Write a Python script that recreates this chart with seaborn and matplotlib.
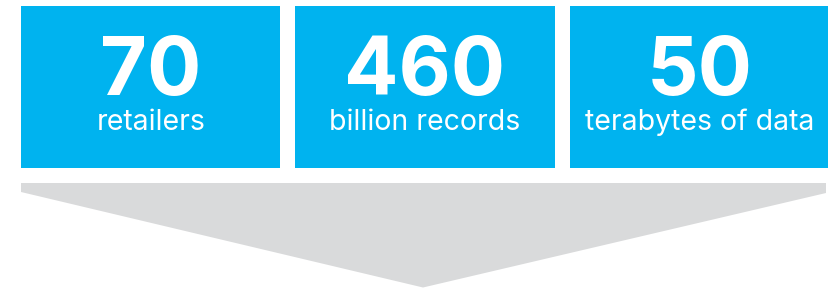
import matplotlib
matplotlib.use("Agg")
import matplotlib.pyplot as plt
from matplotlib.patches import Polygon
import seaborn as sns
import pandas as pd

# Data
values = ["70", "460", "50"]
labels = ["retailers", "billion records", "terabytes of data"]

BLUE = "#00B3EF"
GRAY = "#D9DADB"

sns.set_theme(style="white")
plt.rcParams["font.family"] = ["Inter", "DejaVu Sans"]

W, H = 829, 290
fig = plt.figure(figsize=(W / 100, H / 100), dpi=100)
ax = fig.add_axes([0, 0, 1, 1])

# Box layout (pixels)
box_w = 259.5
step = 274.3
centers = [21 + box_w / 2 + i * step for i in range(len(values))]
top, bottom = 6, 167.5

df = pd.DataFrame({"pos": centers, "h": [bottom - top] * len(values), "k": values})
sns.barplot(data=df, x="pos", y="h", native_scale=True, width=box_w / step,
            color=BLUE, saturation=1, ax=ax, linewidth=0)
ax.set_xlim(0, W)
ax.set_ylim(H - top, -top)

# Arrow
arrow = Polygon([(21, 183 - top), (21, 192 - top), (423, 287.5 - top),
                 (826, 193 - top), (826, 183 - top)], closed=True,
                facecolor=GRAY, edgecolor="none")
ax.add_patch(arrow)

for c, v, l in zip(centers, values, labels):
    ax.text(c, 95 - top, v, ha="center", va="baseline", color="white",
            fontsize=58, fontweight="bold")
    ax.text(c, 130.5 - top, l, ha="center", va="baseline", color="white",
            fontsize=20.5)

ax.axis("off")
fig.savefig("out.png", dpi=100, facecolor="white")
